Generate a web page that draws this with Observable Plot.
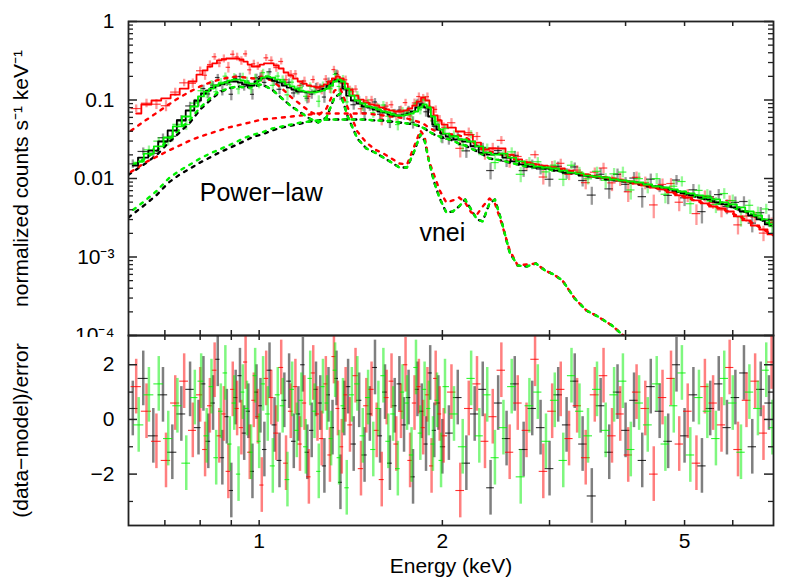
<!DOCTYPE html>
<html><head><meta charset="utf-8">
<script src="https://cdn.jsdelivr.net/npm/d3@7"></script>
<script src="https://cdn.jsdelivr.net/npm/@observablehq/plot@0.6"></script>
<style>
body{margin:0;background:#fff;}
#chart{position:relative;width:789px;height:587px;background:#fff;overflow:hidden;}
#chart svg{position:absolute;left:0;}
</style></head><body><div id="chart"></div>
<script>
// ---------- spectral bins (keV) for the three detectors ----------
const energyBlack = [0.62,0.645,0.67,0.695,0.72,0.745,0.77,0.795,
0.81,0.825,0.84,0.855,0.87,0.885,0.9,0.915,0.93,0.945,0.96,0.975,0.99,1.005,1.02,1.04,1.06,1.08,1.10,1.12,1.14,1.16,1.18,1.20,1.22,1.24,1.26,1.28,1.30,1.32,1.34,1.36,1.38,1.40,1.43,1.46,1.49,1.52,1.55,1.58,1.61,1.64,1.67,1.70,1.73,1.76,1.79,1.82,1.85,1.88,1.91,1.94,1.97,2.00,
2.05,2.12,2.19,2.26,2.33,2.40,2.47,2.55,2.63,2.72,2.81,2.90,3.00,3.10,3.20,3.30,3.40,3.52,3.64,3.76,3.88,4.00,4.13,4.26,4.40,4.55,4.70,4.85,5.00,5.17,5.34,5.51,5.69,5.87,6.06,6.26,6.46,6.67,6.88];
const energyRed = [0.628,0.653,0.678,0.703,0.728,0.753,0.778,0.80,
0.815,0.83,0.845,0.86,0.875,0.89,0.905,0.92,0.935,0.95,0.965,0.98,0.995,1.01,1.027,1.047,1.067,1.087,1.107,1.127,1.147,1.167,1.187,1.207,1.227,1.247,1.267,1.287,1.307,1.327,1.347,1.367,1.387,1.41,1.44,1.47,1.50,1.53,1.56,1.59,1.62,1.65,1.68,1.71,1.74,1.77,1.80,1.83,1.86,1.89,1.92,1.95,1.98,2.01,
2.07,2.14,2.21,2.28,2.35,2.42,2.50,2.58,2.66,2.75,2.84,2.93,3.03,3.13,3.23,3.33,3.44,3.56,3.68,3.80,3.92,4.04,4.17,4.31,4.45,4.60,4.75,4.90,5.06,5.23,5.40,5.57,5.75,5.93,6.12,6.32,6.53,6.74,6.95];
const energyGreen = [0.634,0.659,0.684,0.709,0.734,0.759,0.784,0.803,
0.82,0.835,0.85,0.865,0.88,0.895,0.91,0.925,0.94,0.955,0.97,0.985,1.0,1.015,1.033,1.053,1.073,1.093,1.113,1.133,1.153,1.173,1.193,1.213,1.233,1.253,1.273,1.293,1.313,1.333,1.353,1.373,1.393,1.42,1.45,1.48,1.51,1.54,1.57,1.60,1.63,1.66,1.69,1.72,1.75,1.78,1.81,1.84,1.87,1.90,1.93,1.96,1.99,2.02,
2.09,2.16,2.23,2.30,2.37,2.44,2.52,2.60,2.69,2.78,2.87,2.96,3.06,3.16,3.26,3.36,3.47,3.59,3.71,3.83,3.96,4.08,4.21,4.35,4.50,4.65,4.80,4.95,5.11,5.28,5.45,5.63,5.81,6.00,6.19,6.39,6.60,6.81,6.97];

// ---------- folded total model (counts s^-1 keV^-1) ----------
const modelRed = [0.0673,0.0876,0.0986,0.105,0.117,0.140,0.172,0.211,
0.238,0.267,0.292,0.319,0.328,0.338,0.338,0.338,0.328,0.309,0.283,0.267,0.267,0.283,0.292,0.292,0.275,0.252,0.224,0.205,0.188,0.172,0.162,0.153,0.149,0.144,0.149,0.158,0.172,0.188,0.199,0.188,0.162,0.136,0.114,0.101,0.0929,0.0876,0.0851,0.0802,0.0757,0.0735,0.0714,0.0714,0.0735,0.0779,0.0851,0.0957,0.108,0.0986,0.0802,0.0635,0.0548,0.0487,
0.0446,0.0397,0.0363,0.0287,0.0234,0.0241,0.0241,0.0202,0.0175,0.0160,0.0151,0.0146,0.0138,0.0134,0.0126,0.0119,0.0112,0.0106,0.0103,0.0100,0.00943,0.00916,0.00864,0.00815,0.00768,0.00725,0.00664,0.00608,0.00573,0.00525,0.00481,0.00440,0.00415,0.00380,0.00329,0.00292,0.00252,0.00224,0.00194];
const modelGreen = [0.0165,0.0208,0.0256,0.0333,0.0460,0.0616,0.0826,0.111,
0.128,0.140,0.153,0.162,0.167,0.177,0.182,0.182,0.177,0.167,0.162,0.162,0.177,0.193,0.199,0.193,0.182,0.172,0.158,0.149,0.140,0.132,0.128,0.125,0.125,0.128,0.132,0.140,0.153,0.172,0.182,0.172,0.140,0.114,0.0986,0.0902,0.0826,0.0802,0.0757,0.0714,0.0693,0.0653,0.0635,0.0635,0.0653,0.0673,0.0714,0.0802,0.0876,0.0802,0.0616,0.0487,0.0421,0.0374,
0.0343,0.0314,0.0296,0.0256,0.0214,0.0202,0.0208,0.0185,0.0165,0.0151,0.0142,0.0138,0.0134,0.0126,0.0119,0.0116,0.0109,0.0106,0.0103,0.00971,0.00943,0.00916,0.00889,0.00839,0.00791,0.00768,0.00725,0.00683,0.00645,0.00608,0.00573,0.00541,0.00495,0.00467,0.00428,0.00380,0.00338,0.00301,0.00260];
const modelBlack = [0.0146,0.0185,0.0227,0.0296,0.0409,0.0548,0.0735,0.0986,
0.121,0.132,0.144,0.153,0.158,0.167,0.172,0.172,0.167,0.158,0.153,0.153,0.172,0.188,0.193,0.188,0.177,0.167,0.153,0.144,0.136,0.128,0.128,0.125,0.125,0.128,0.132,0.140,0.153,0.172,0.182,0.172,0.140,0.114,0.0986,0.0902,0.0826,0.0802,0.0757,0.0714,0.0693,0.0653,0.0635,0.0635,0.0653,0.0673,0.0714,0.0802,0.0876,0.0802,0.0616,0.0487,0.0421,0.0374,
0.0343,0.0314,0.0296,0.0256,0.0214,0.0202,0.0208,0.0185,0.0165,0.0151,0.0142,0.0138,0.0134,0.0126,0.0119,0.0116,0.0109,0.0106,0.0103,0.00971,0.00943,0.00916,0.00889,0.00839,0.00791,0.00768,0.00725,0.00683,0.00645,0.00608,0.00573,0.00541,0.00495,0.00467,0.00428,0.00380,0.00338,0.00301,0.00260];

// ---------- residuals (data-model)/error ----------
const residRed = [1.2,0.3,-0.8,-1.5,0.6,1.4,-0.4,0.9,
-1.1,0.5,1.8,-0.6,0.2,-1.9,1.1,0.4,-0.3,2.1,-1.2,0.7,
0.1,-2.4,1.5,0.8,-0.5,1.9,-1.6,0.3,1.2,-0.9,0.6,-2.1,
1.7,0.2,-0.7,1.3,-1.3,2.3,0.4,-1.0,0.9,-0.2,1.6,-1.8,
0.5,1.1,-0.4,-2.2,0.8,1.4,-0.9,0.3,2.0,-1.5,0.6,1.2,
-0.3,0.9,-1.7,1.5,0.2,-0.6,
1.0,-2.6,0.4,1.3,-0.8,0.1,1.8,-1.2,0.6,-0.4,2.2,-1.9,0.3,1.1,-0.7,0.5,-1.4,0.9,
1.6,-0.6,0.2,-1.3,1.0,0.4,-2.0,0.8,1.5,-0.9,0.3,-1.6,1.2,0.6,-0.2,1.9,-1.1,0.7,1.4,-0.5,2.1];
const residBlack = [0.4,1.5,-0.6,0.9,-1.2,0.2,1.1,-0.3,
1.3,-0.8,0.6,2.2,-1.4,0.1,-2.6,0.8,1.6,-0.5,0.3,-1.9,
1.0,0.5,-1.1,1.8,-0.2,-1.5,0.7,1.4,-0.8,0.2,2.0,-1.2,
-0.4,1.1,0.6,-1.7,0.9,-0.3,1.5,-2.3,0.4,1.2,-0.9,0.7,
-1.3,0.2,1.9,-0.6,1.0,-1.6,0.5,1.3,-0.2,0.8,-2.1,1.1,
0.3,-0.9,1.7,-0.4,0.6,-1.0,
-0.5,0.8,-1.6,0.2,1.1,-2.5,0.6,-0.7,1.3,-1.1,0.4,-0.3,-1.8,0.9,-0.2,1.4,-0.9,-2.8,
0.5,-1.2,1.0,-0.4,0.7,-1.5,1.2,0.3,-0.8,2.0,-0.6,0.9,-1.7,0.4,1.3,-0.3,0.8,1.7,-1.0,1.1,0.6];
const residGreen = [-0.2,0.9,1.3,-0.7,0.5,-1.6,0.8,1.4,
-0.6,1.2,-1.4,0.3,1.7,-0.9,0.6,-2.0,1.0,0.4,-1.2,1.6,
-0.8,1.3,0.2,-1.7,0.9,0.5,-2.2,1.1,-0.4,0.7,-1.0,1.5,
0.3,-1.9,1.2,0.6,-0.7,1.8,-1.4,0.5,-2.5,0.9,1.3,-0.6,
0.8,-1.1,0.4,1.6,-0.8,0.2,-1.8,1.0,0.6,-1.3,1.9,-0.5,
1.1,0.4,-0.9,0.7,-1.5,1.2,
0.2,-1.0,1.5,-0.6,0.9,-1.4,-0.3,1.2,-2.1,0.5,1.0,-0.8,0.7,-1.5,1.6,0.3,-0.6,1.1,
-0.4,0.9,1.4,-1.1,0.6,-0.2,1.3,-0.9,0.5,1.7,-1.3,0.8,0.3,-0.7,1.5,0.6,-1.2,1.0,0.4,1.8,-0.3];

// ---------- relative 1-sigma error per bin ----------
const relErr = [0.13,0.13,0.13,0.13,0.13,0.13,0.13,0.13,
0.12,0.12,0.12,0.12,0.12,0.12,0.12,0.12,0.12,0.12,0.12,0.12,0.12,0.12,0.12,0.12,0.12,0.12,0.12,0.12,0.12,0.12,
0.13,0.13,0.13,0.13,0.13,0.13,0.13,0.13,0.13,0.13,0.13,0.13,0.13,0.13,0.13,0.13,0.13,0.13,0.13,0.13,0.13,0.13,0.13,0.13,0.13,0.13,0.13,0.13,0.13,0.13,0.13,0.13,
0.15,0.15,0.15,0.15,0.15,0.15,0.15,0.15,0.15,0.15,0.15,0.15,0.15,0.15,0.15,0.15,0.15,0.15,
0.2,0.2,0.2,0.2,0.2,0.2,0.2,0.2,0.2,0.2,0.2,0.2,0.2,0.2,0.2,0.2,0.2,0.2,0.2,0.2,0.2];

// ---------- model components (dotted) ----------
const compEnergy = [0.61,0.65,0.68,0.71,0.74,0.77,0.80,0.83,0.86,0.89,0.92,0.95,0.98,1.01,1.05,1.09,1.13,1.17,1.21,1.25,1.29,1.33,1.36,1.40,1.45,1.50,1.55,1.60,1.65,1.70,1.75,1.80,1.84,1.87,1.90,1.94,1.98,2.03,2.08,2.13,2.18,2.23,2.28,2.33,2.39,2.44,2.50,2.58,2.66,2.75,2.85,2.95,3.05,3.15,3.30,3.45,3.60,3.80,4.00,4.20,4.60,5.20,5.80,6.40,7.00];
const powerlawGreen = [0.00359,0.00525,0.00704,0.0100,0.0126,0.0151,0.0180,0.0208,0.0234,0.0263,0.0296,0.0333,0.0363,0.0385,0.0433,0.0460,0.0487,0.0517,0.0532,0.0548,0.0564,0.0564,0.0564,0.0564,0.0564,0.0564,0.0548,0.0548,0.0532,0.0517,0.0502,0.0487,0.0460,0.0433,0.0397,0.0363,0.0343,0.0323,0.0305,0.0279,0.0263,0.0241,0.0221,0.0202,0.0180,0.0175,0.0170,0.0160,0.0151,0.0142,0.0138,0.0134,0.0126,0.0123,0.0116,0.0109,0.0103,0.00971,0.00916,0.00864,0.00768,0.00590,0.00467,0.00359,0.00245];
const powerlawBlack = [0.00319,0.00467,0.00626,0.00889,0.0112,0.0134,0.0160,0.0185,0.0214,0.0241,0.0271,0.0305,0.0343,0.0363,0.0409,0.0446,0.0473,0.0502,0.0532,0.0548,0.0564,0.0564,0.0564,0.0564,0.0564,0.0564,0.0548,0.0548,0.0532,0.0517,0.0502,0.0487,0.0460,0.0433,0.0397,0.0363,0.0343,0.0323,0.0305,0.0279,0.0263,0.0241,0.0221,0.0202,0.0180,0.0175,0.0170,0.0160,0.0151,0.0142,0.0138,0.0134,0.0126,0.0123,0.0116,0.0109,0.0103,0.00971,0.00916,0.00864,0.00768,0.00590,0.00467,0.00359,0.00245];
const powerlawRed = [0.0116,0.0160,0.0191,0.0227,0.0263,0.0305,0.0343,0.0374,0.0409,0.0446,0.0473,0.0502,0.0532,0.0564,0.0581,0.0598,0.0616,0.0635,0.0653,0.0673,0.0673,0.0673,0.0673,0.0673,0.0673,0.0673,0.0653,0.0635,0.0616,0.0598,0.0581,0.0548,0.0517,0.0487,0.0446,0.0409,0.0385,0.0374,0.0363,0.0353,0.0333,0.0305,0.0263,0.0241,0.0221,0.0214,0.0202,0.0185,0.0170,0.0160,0.0151,0.0142,0.0134,0.0130,0.0119,0.0112,0.0106,0.0100,0.00916,0.00839,0.00725,0.00525,0.00403,0.00284,0.00188];
const vneiGreen = [0.0138,0.0180,0.0227,0.0314,0.0421,0.0564,0.0802,0.105,0.128,0.140,0.149,0.144,0.149,0.158,0.136,0.105,0.0826,0.0693,0.0581,0.0517,0.0598,0.108,0.121,0.0598,0.0323,0.0241,0.0214,0.0185,0.0160,0.0138,0.0138,0.0227,0.0363,0.0305,0.0170,0.00889,0.00557,0.00369,0.00380,0.00440,0.00541,0.00403,0.00301,0.00284,0.00481,0.00541,0.00292,0.00114,0.000779,0.000757,0.000826,0.000673,0.000598,0.000502,0.000296,0.000208,0.000175,0.000134,0.0000943,0.0000724];
const vneiBlack = [0.0112,0.0155,0.0202,0.0287,0.0385,0.0517,0.0757,0.0986,0.125,0.140,0.149,0.144,0.149,0.158,0.136,0.105,0.0826,0.0693,0.0581,0.0517,0.0598,0.108,0.121,0.0598,0.0323,0.0241,0.0214,0.0185,0.0160,0.0138,0.0138,0.0227,0.0363,0.0305,0.0170,0.00889,0.00557,0.00369,0.00380,0.00440,0.00541,0.00403,0.00301,0.00284,0.00481,0.00541,0.00292,0.00114,0.000779,0.000757,0.000826,0.000673,0.000598,0.000502,0.000296,0.000208,0.000175,0.000134,0.0000943,0.0000724];
const vneiRed = [0.0385,0.0548,0.0693,0.0876,0.108,0.128,0.149,0.167,0.182,0.193,0.199,0.193,0.188,0.193,0.177,0.140,0.108,0.0876,0.0714,0.0635,0.0779,0.132,0.140,0.0779,0.0397,0.0287,0.0234,0.0208,0.0180,0.0155,0.0151,0.0263,0.0409,0.0343,0.0170,0.0109,0.00704,0.00495,0.00525,0.00573,0.00495,0.00369,0.00348,0.00440,0.00557,0.00481,0.00276,0.00122,0.000779,0.000803,0.000826,0.000673,0.000598,0.000502,0.000296,0.000208,0.000175,0.000134,0.0000943,0.0000724];

// ---------- annotations & ticks ----------
const annotations = [
  {text: "Power\u2212law", energy: 1.008, value: 0.0066},
  {text: "vnei", energy: 2.0, value: 0.00205}
];
const yTickValues = [1, 0.1, 0.01, 0.001, 0.0001];
const yTickLabels = ["1", "0.1", "0.01", "10\u207B\u00B3", "10\u207B\u2074"];
const xTickValues = [0.7, 0.8, 0.9, 1, 2, 3, 4, 5, 6];
const xLabelValues = [1, 2, 5];
const residMajor = [-2, 0, 2];
const residMinor = [-3, -1, 1];

// ---------- build tables ----------
function binRows(energy, model, resid) {
  const n = energy.length;
  return energy.map((E, i) => {
    const prev = i > 0 ? energy[i - 1] : E * E / energy[i + 1];
    const next = i < n - 1 ? energy[i + 1] : E * E / energy[i - 1];
    const err = model[i] * relErr[i];
    return {E, lo: Math.sqrt(prev * E), hi: Math.sqrt(E * next), model: model[i],
            resid: resid[i], err, value: model[i] + resid[i] * err};
  });
}
const comp = (arr) => arr.map((v, i) => ({E: compEnergy[i], v}));

const sets = [
  {color: "#000000", rows: binRows(energyBlack, modelBlack, residBlack), pl: comp(powerlawBlack), vn: comp(vneiBlack), off: 0},
  {color: "#ff0000", rows: binRows(energyRed, modelRed, residRed), pl: comp(powerlawRed), vn: comp(vneiRed), off: 6},
  {color: "#00f000", rows: binRows(energyGreen, modelGreen, residGreen), pl: comp(powerlawGreen), vn: comp(vneiGreen), off: 3}
];

const yMinor = [];
for (const dec of [1e-4, 1e-3, 1e-2, 1e-1]) for (let k = 2; k <= 9; k++) yMinor.push(+(k * dec).toPrecision(3));

const FONT = "'Liberation Sans', Arial, Helvetica, sans-serif";
const W = 789, ML = 128, MR = 16, PW = W - ML - MR;
const TOP_H = 337, TOP_MT = 21, TOP_MB = 2, TH = TOP_H - TOP_MT - TOP_MB;
const BOT_H = 254, BOT_MT = 2, BOT_MB = 62, BH = BOT_H - BOT_MT - BOT_MB;
const xDomain = [0.61, 7.0];
const frameColor = "#222";

function tickMarks(majorY, minorY, H) {
  return [
    Plot.ruleY(majorY, {insetRight: PW - 9, stroke: frameColor, strokeWidth: 1.5}),
    Plot.ruleY(majorY, {insetLeft: PW - 9, stroke: frameColor, strokeWidth: 1.5}),
    Plot.ruleY(minorY, {insetRight: PW - 5, stroke: frameColor, strokeWidth: 1.3}),
    Plot.ruleY(minorY, {insetLeft: PW - 5, stroke: frameColor, strokeWidth: 1.3}),
    Plot.ruleX(xTickValues, {insetBottom: H - 5, stroke: frameColor, strokeWidth: 1.5}),
    Plot.ruleX(xTickValues, {insetTop: H - 5, stroke: frameColor, strokeWidth: 1.5})
  ];
}

const topPlot = Plot.plot({
  width: W, height: TOP_H, marginTop: TOP_MT, marginBottom: TOP_MB, marginLeft: ML, marginRight: MR,
  x: {type: "log", domain: xDomain, axis: null},
  y: {type: "log", domain: [1e-4, 1], axis: null},
  style: {fontFamily: FONT, background: "white", overflow: "hidden"},
  marks: [
    ...sets.flatMap(s => [
      Plot.ruleX(s.rows, {x: "E", y1: d => d.value - d.err, y2: d => d.value + d.err, stroke: s.color, strokeOpacity: 0.4, strokeWidth: 2.3, clip: true}),
      Plot.ruleY(s.rows, {y: "value", x1: "lo", x2: "hi", stroke: s.color, strokeOpacity: 0.75, strokeWidth: 1.2, clip: true})
    ]),
    ...sets.flatMap(s => [
      Plot.line(s.vn, {x: "E", y: "v", stroke: s.color, strokeWidth: 2.4, strokeDasharray: "3,6", strokeDashoffset: s.off, clip: true}),
      Plot.line(s.pl, {x: "E", y: "v", stroke: s.color, strokeWidth: 2.4, strokeDasharray: "3,6", strokeDashoffset: s.off, clip: true})
    ]),
    ...sets.map(s => Plot.line(s.rows, {x: "E", y: "model", curve: "step", stroke: s.color, strokeWidth: 1.8, clip: true})),
    ...tickMarks(yTickValues, yMinor, TH),
    Plot.frame({stroke: frameColor, strokeWidth: 1.8}),
    Plot.text(yTickValues.map((v, i) => ({v, label: yTickLabels[i]})), {y: "v", text: "label", frameAnchor: "left", dx: -14, textAnchor: "end", lineAnchor: "middle", fontSize: 21, fill: "#000"}),
    Plot.text(["normalized counts s\u207B\u00B9 keV\u207B\u00B9"], {text: d => d, frameAnchor: "left", dx: -107, rotate: -90, textAnchor: "middle", lineAnchor: "middle", fontSize: 21, fill: "#000"}),
    Plot.text(annotations, {x: "energy", y: "value", text: "text", fontSize: 25, fill: "#000", textAnchor: "middle", lineAnchor: "middle"})
  ]
});
topPlot.style.top = "0px";

const bottomPlot = Plot.plot({
  width: W, height: BOT_H, marginTop: BOT_MT, marginBottom: BOT_MB, marginLeft: ML, marginRight: MR,
  x: {type: "log", domain: xDomain, axis: null},
  y: {domain: [-3.88, 3.07], axis: null},
  style: {fontFamily: FONT, background: "transparent", overflow: "visible"},
  marks: [
    ...sets.flatMap(s => [
      Plot.ruleX(s.rows, {x: "E", y1: d => d.resid - 1, y2: d => d.resid + 1, stroke: s.color, strokeOpacity: 0.5, strokeWidth: 2.5, clip: true}),
      Plot.ruleY(s.rows, {y: "resid", x1: "lo", x2: "hi", stroke: s.color, strokeOpacity: 0.8, strokeWidth: 1.1, clip: true})
    ]),
    ...tickMarks(residMajor, residMinor, BH),
    Plot.frame({stroke: frameColor, strokeWidth: 1.8}),
    Plot.text(residMajor, {y: d => d, text: d => d === 0 ? "0" : (d < 0 ? "\u2212" + Math.abs(d) : String(d)), frameAnchor: "left", dx: -14, textAnchor: "end", lineAnchor: "middle", fontSize: 21, fill: "#000"}),
    Plot.text(["(data\u2212model)/error"], {text: d => d, frameAnchor: "left", dx: -107, rotate: -90, textAnchor: "middle", lineAnchor: "middle", fontSize: 21, fill: "#000"}),
    Plot.text(xLabelValues, {x: d => d, text: d => String(d), frameAnchor: "bottom", dy: 16, textAnchor: "middle", lineAnchor: "middle", fontSize: 21, fill: "#000"}),
    Plot.text(["Energy (keV)"], {text: d => d, frameAnchor: "bottom", dy: 41, textAnchor: "middle", lineAnchor: "middle", fontSize: 21, fill: "#000"})
  ]
});
bottomPlot.style.top = "333px";

const chart = document.getElementById("chart");
chart.appendChild(topPlot);
chart.appendChild(bottomPlot);
</script>
</body></html>
